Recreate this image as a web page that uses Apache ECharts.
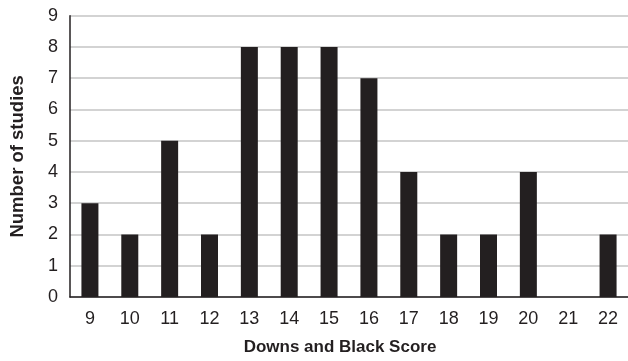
<!DOCTYPE html>
<html><head><meta charset="utf-8">
<script src="https://cdn.jsdelivr.net/npm/echarts@6/dist/echarts.min.js"></script>
<style>html,body{margin:0;padding:0;background:#fff}#c{width:628px;height:361px}</style>
</head><body><div id="c"></div>
<script>
const categories = ['9','10','11','12','13','14','15','16','17','18','19','20','21','22'];
const studies = [3,2,5,2,8,8,8,7,4,2,2,4,0,2];
const yTicks = [0,1,2,3,4,5,6,7,8,9];

const chart = echarts.init(document.getElementById('c'), null, {renderer:'canvas'});
chart.setOption({
  animation:false,
  grid:{left:68, width:564, top:15.7, height:284.8, containLabel:false},
  xAxis:{
    type:'category', data:categories,
    name:'Downs and Black Score', nameLocation:'middle', nameGap:42,
    nameTextStyle:{fontFamily:'Liberation Sans, Arial', fontWeight:'bold', fontSize:17, color:'#231f20', padding:[0,18,0,0]},
    axisLine:{lineStyle:{color:'#231f20', width:1.5}},
    axisTick:{show:false},
    axisLabel:{fontFamily:'Liberation Sans, Arial', fontSize:18, color:'#231f20', margin:13}
  },
  yAxis:{
    type:'value', min:0, max:9, interval:1,
    name:'Number of studies', nameLocation:'middle', nameGap:43, nameRotate:90,
    nameTextStyle:{fontFamily:'Liberation Sans, Arial', fontWeight:'bold', fontSize:18.5, color:'#231f20'},
    axisLine:{show:true, lineStyle:{color:'#231f20', width:1.5}},
    axisTick:{show:false},
    axisLabel:{fontFamily:'Liberation Sans, Arial', fontSize:18, color:'#231f20', margin:12,
      formatter:v=>yTicks.includes(v)?String(v):''},
    splitLine:{show:true, lineStyle:{color:'#c4c4c4', width:1.5}}
  },
  series:[{type:'bar', data:studies, barWidth:17, itemStyle:{color:'#231f20'}}]
});
</script></body></html>
